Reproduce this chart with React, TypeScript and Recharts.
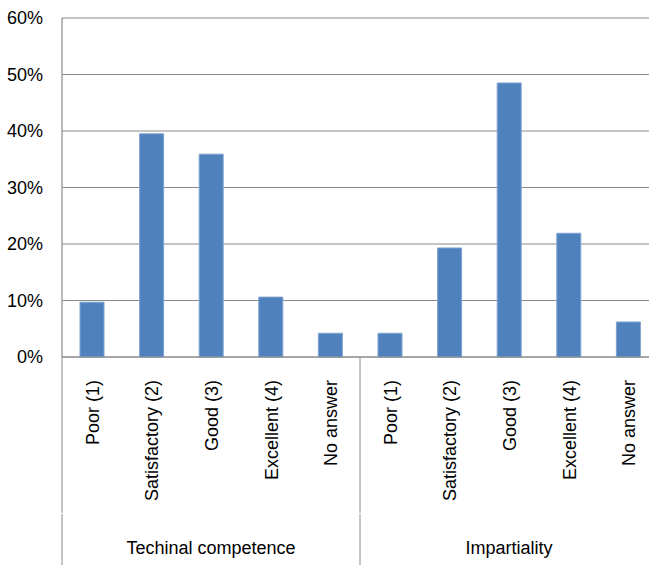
import { BarChart, Bar, XAxis, YAxis, CartesianGrid } from "recharts";

const groups = ["Techinal competence", "Impartiality"];
const categories = ["Poor (1)", "Satisfactory (2)", "Good (3)", "Excellent (4)", "No answer"];
const technical = [9.7, 39.5, 35.9, 10.6, 4.2];
const impartiality = [4.2, 19.3, 48.5, 21.9, 6.2];
const yTicks = [0, 10, 20, 30, 40, 50, 60];

const data = [
  ...categories.map((c, i) => ({ label: c, group: groups[0], value: technical[i] })),
  ...categories.map((c, i) => ({ label: c, group: groups[1], value: impartiality[i] })),
];

const W = 660;
const H = 565;
const LEFT = 62;
const RIGHT = 2;
const TOP = 18;
const AXIS_H = 208;
const band = (W - LEFT - RIGHT) / data.length;
const font = "'Liberation Sans', Arial, sans-serif";
const lineColor = "#8a8a8a";

function CategoryTick(props: any) {
  const { x, y, payload } = props;
  const i = payload.index;
  const row = data[i];
  const perGroup = categories.length;
  const isStart = i % perGroup === 0;
  const isMiddle = i % perGroup === Math.floor(perGroup / 2);
  const isLast = i === data.length - 1;
  const bottom = H;
  return (
    <g>
      <text
        x={0}
        y={0}
        transform={`translate(${x + 1}, ${y + 23}) rotate(-90)`}
        textAnchor="end"
        dominantBaseline="central"
        fontSize={18}
        fontFamily={font}
        fill="#000"
      >
        {payload.value}
      </text>
      {isStart && (
        <>
          <line x1={x - band / 2} x2={x - band / 2} y1={y} y2={y + 156} stroke={lineColor} />
          <line x1={x - band / 2} x2={x - band / 2} y1={y + 157} y2={bottom} stroke={lineColor} />
        </>
      )}
      {isLast && (
        <line x1={x + band / 2} x2={x + band / 2} y1={y} y2={bottom} stroke={lineColor} />
      )}
      {isMiddle && (
        <text
          x={x}
          y={y + 197}
          textAnchor="middle"
          fontSize={18}
          fontFamily={font}
          fill="#000"
        >
          {row.group}
        </text>
      )}
    </g>
  );
}

export default function App() {
  return (
    <div style={{ position: "absolute", left: 0, top: 0, width: 649, height: H, overflow: "hidden", background: "#fff" }}>
      <BarChart
        width={W}
        height={H}
        data={data}
        margin={{ top: TOP, right: RIGHT, bottom: 0, left: 0 }}
        barCategoryGap="0%"
      >
        <CartesianGrid vertical={false} stroke={lineColor} strokeWidth={1.2} />
        <XAxis
          dataKey="label"
          height={AXIS_H}
          interval={0}
          tickLine={false}
          tickSize={0}
          tickMargin={0}
          axisLine={{ stroke: lineColor, strokeWidth: 1.2 }}
          tick={<CategoryTick />}
        />
        <YAxis
          width={LEFT}
          domain={[0, 60]}
          ticks={yTicks}
          tickFormatter={(v) => `${v}%`}
          tickLine={false}
          tickSize={0}
          tickMargin={19}
          axisLine={{ stroke: lineColor, strokeWidth: 1.2 }}
          tick={{ fontSize: 18, fontFamily: font, fill: "#000" }}
        />
        <Bar dataKey="value" fill="#4f81bd" stroke="#7ea3d0" strokeWidth={1} barSize={24} isAnimationActive={false} />
      </BarChart>
    </div>
  );
}
